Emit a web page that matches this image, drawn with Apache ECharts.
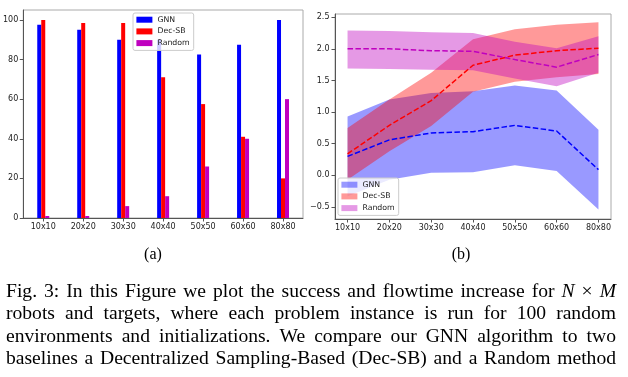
<!DOCTYPE html>
<html>
<head>
<meta charset="utf-8">
<script src="https://cdn.jsdelivr.net/npm/echarts@6/dist/echarts.min.js"></script>
<style>
  html, body { margin: 0; padding: 0; background: #fff; }
  #main { width: 628px; height: 377px; }
</style>
</head>
<body>
<div id="main"></div>
<script>
var sizes = ['10x10', '20x20', '30x30', '40x40', '50x50', '60x60', '80x80'];
var methods = ['GNN', 'Dec-SB', 'Random'];

// (a) success, percent
var successGnn = [97.5, 95, 90, 90, 82.5, 87.5, 100];
var successDecSb = [100, 98.5, 98.5, 71, 57.5, 41, 20];
var successRandom = [1, 1, 6, 11, 26, 40, 60];

// (b) flowtime increase, mean and spread
var flowGnn = [0.30, 0.56, 0.67, 0.69, 0.79, 0.70, 0.09];
var flowGnnLow = [-0.33, -0.07, 0.04, 0.05, 0.16, 0.07, -0.54];
var flowGnnHigh = [0.93, 1.20, 1.30, 1.33, 1.42, 1.34, 0.72];
var flowDecSb = [0.34, 0.79, 1.18, 1.74, 1.90, 1.97, 2.01];
var flowDecSbLow = [-0.07, 0.38, 0.78, 1.32, 1.48, 1.55, 1.60];
var flowDecSbHigh = [0.75, 1.20, 1.62, 2.15, 2.31, 2.38, 2.42];
var flowRandom = [2.00, 2.00, 1.97, 1.96, 1.83, 1.71, 1.91];
var flowRandomLow = [1.69, 1.68, 1.67, 1.66, 1.53, 1.41, 1.62];
var flowRandomHigh = [2.29, 2.28, 2.26, 2.25, 2.11, 2.01, 2.20];

var successTicks = [0, 20, 40, 60, 80, 100];
var flowTicks = [-0.5, 0, 0.5, 1, 1.5, 2, 2.5];

var captionLines = [
  'Fig. 3: In this Figure we plot the success and flowtime increase for N \u00d7 M',
  'robots and targets, where each problem instance is run for 100 random',
  'environments and initializations. We compare our GNN algorithm to two',
  'baselines a Decentralized Sampling-Based (Dec-SB) and a Random method'
];

var blue = '#0000ff', red = '#ff0000', magenta = '#bf00bf';
var blueFill = 'rgba(0,0,255,0.4)', redFill = 'rgba(255,0,0,0.4)', magentaFill = 'rgba(191,0,191,0.4)';

var chart = echarts.init(document.getElementById('main'));

var tickFont = { fontFamily: 'DejaVu Sans', fontSize: 8, color: '#222' };
var spine = { show: true, onZero: false, lineStyle: { color: '#555', width: 1 } };
var tick = { show: true, inside: false, length: 3.5, lineStyle: { color: '#555' } };

function band(name, low, high, fill) {
  return {
    type: 'custom',
    name: name,
    xAxisIndex: 1,
    yAxisIndex: 1,
    silent: true,
    z: 1,
    itemStyle: { color: fill },
    data: low.map(function (v, i) { return [i, v, high[i]]; }),
    encode: { x: 0, y: [1, 2] },
    renderItem: function (params, api) {
      if (params.dataIndex !== 0) return null;
      var pts = [];
      for (var i = 0; i < high.length; i++) pts.push(api.coord([i, high[i]]));
      for (var j = low.length - 1; j >= 0; j--) pts.push(api.coord([j, low[j]]));
      return { type: 'polygon', shape: { points: pts }, style: { fill: fill } };
    }
  };
}

function meanLine(values, color) {
  return {
    type: 'line',
    xAxisIndex: 1,
    yAxisIndex: 1,
    z: 3,
    symbol: 'none',
    silent: true,
    data: values.map(function (v, i) { return [i, v]; }),
    lineStyle: { color: color, width: 1.5, type: [5.5, 2.4] }
  };
}

// caption, justified like the paper's text block
var measure = document.createElement('canvas').getContext('2d');
var capSize = 19.6, capLeft = 6, capRight = 616;
var capBaselines = [298.5, 321, 343.5, 365.5];
var texts = [
  { type: 'text', x: 153, y: 255, style: { text: '(a)', fontFamily: 'Liberation Serif', fontSize: 16, fill: '#000', align: 'center', verticalAlign: 'middle' } },
  { type: 'text', x: 461, y: 255, style: { text: '(b)', fontFamily: 'Liberation Serif', fontSize: 16, fill: '#000', align: 'center', verticalAlign: 'middle' } }
];
captionLines.forEach(function (line, li) {
  var words = line.split(' ');
  var widths = words.map(function (w) {
    var it = (li === 0 && (w === 'N' || w === 'M'));
    measure.font = (it ? 'italic ' : '') + capSize + 'px "Liberation Serif"';
    return measure.measureText(w).width;
  });
  var total = widths.reduce(function (a, b) { return a + b; }, 0);
  var gap = (capRight - capLeft - total) / (words.length - 1);
  var x = capLeft;
  words.forEach(function (w, i) {
    var it = (li === 0 && (w === 'N' || w === 'M'));
    texts.push({
      type: 'text', x: x, y: capBaselines[li] - 7,
      style: { text: w, fontFamily: 'Liberation Serif', fontSize: capSize, fontStyle: it ? 'italic' : 'normal', fill: '#000', verticalAlign: 'middle' }
    });
    x += widths[i] + gap;
  });
});

function legendData(fills) {
  return methods.map(function (m, i) {
    return fills ? { name: m, itemStyle: { color: fills[i] } } : { name: m };
  });
}
var legendBase = {
  orient: 'vertical',
  icon: 'rect',
  itemWidth: 16,
  itemHeight: 6,
  itemGap: 1.7,
  selectedMode: false,
  backgroundColor: 'rgba(255,255,255,0.8)',
  borderColor: '#cccccc',
  borderWidth: 1,
  borderRadius: 2,
  padding: [1.7, 4, 2.3, 3.4],
  textStyle: { fontFamily: 'DejaVu Sans', fontSize: 7.8, color: '#222', lineHeight: 10, padding: [0, 0, 0, 0] }
};

chart.setOption({
  animation: false,
  backgroundColor: '#fff',
  grid: [
    { left: 23, top: 10, width: 280, height: 208, show: true, borderColor: '#aaa', borderWidth: 1 },
    { left: 335, top: 14, width: 276, height: 205, show: true, borderColor: '#aaa', borderWidth: 1 }
  ],
  legend: [
    Object.assign({}, legendBase, { left: 133, top: 13, data: legendData(null) }),
    Object.assign({}, legendBase, { left: 338, top: 178, data: legendData([blueFill, redFill, magentaFill]) })
  ],
  xAxis: [
    {
      gridIndex: 0, type: 'category', data: sizes,
      axisLine: spine, axisTick: Object.assign({ alignWithLabel: true }, tick),
      axisLabel: Object.assign({ margin: 5, interval: 0 }, tickFont),
      splitLine: { show: false }
    },
    {
      gridIndex: 1, type: 'value', min: -0.3, max: 6.3,
      axisLine: spine,
      axisTick: Object.assign({ customValues: [0, 1, 2, 3, 4, 5, 6] }, tick),
      axisLabel: Object.assign({
        margin: 5, customValues: [0, 1, 2, 3, 4, 5, 6],
        formatter: function (v) { return sizes[Math.round(v)]; }
      }, tickFont),
      splitLine: { show: false }
    }
  ],
  yAxis: [
    {
      gridIndex: 0, type: 'value', min: 0, max: 105,
      axisLine: spine,
      axisTick: Object.assign({ customValues: successTicks }, tick),
      axisLabel: Object.assign({ margin: 5, customValues: successTicks }, tickFont),
      splitLine: { show: false }
    },
    {
      gridIndex: 1, type: 'value', min: -0.69, max: 2.55,
      axisLine: spine,
      axisTick: Object.assign({ customValues: flowTicks }, tick),
      axisLabel: Object.assign({
        margin: 5.5, customValues: flowTicks,
        formatter: function (v) { return (v < 0 ? '\u2212' : '') + Math.abs(v).toFixed(1); }
      }, tickFont),
      splitLine: { show: false }
    }
  ],
  series: [
    { type: 'bar', name: 'GNN', xAxisIndex: 0, yAxisIndex: 0, data: successGnn, barWidth: 4, barGap: '0%', itemStyle: { color: blue } },
    { type: 'bar', name: 'Dec-SB', xAxisIndex: 0, yAxisIndex: 0, data: successDecSb, barWidth: 4, barGap: '0%', itemStyle: { color: red } },
    { type: 'bar', name: 'Random', xAxisIndex: 0, yAxisIndex: 0, data: successRandom, barWidth: 4, barGap: '0%', itemStyle: { color: magenta } },
    band('GNN', flowGnnLow, flowGnnHigh, blueFill),
    band('Dec-SB', flowDecSbLow, flowDecSbHigh, redFill),
    band('Random', flowRandomLow, flowRandomHigh, magentaFill),
    meanLine(flowGnn, blue),
    meanLine(flowDecSb, red),
    meanLine(flowRandom, magenta)
  ],
  graphic: texts
});
</script>
</body>
</html>
